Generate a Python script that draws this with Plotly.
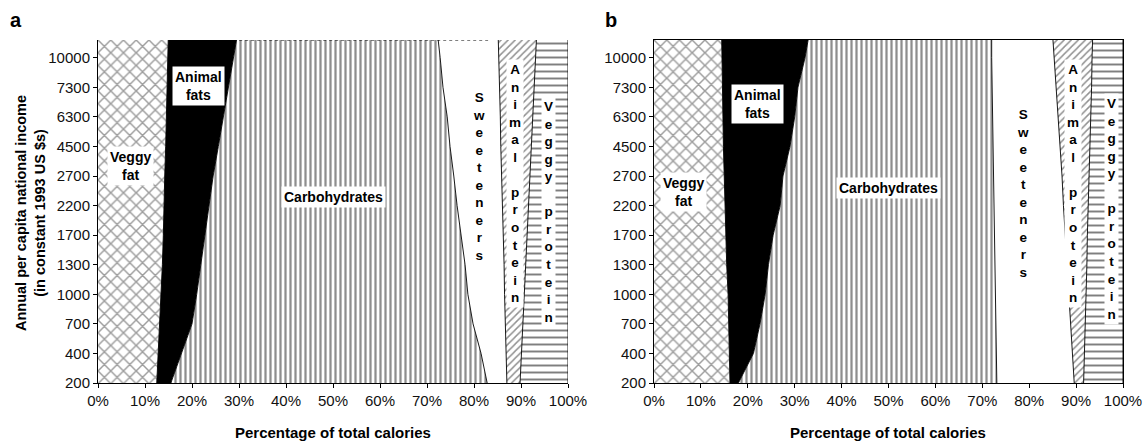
import plotly.graph_objects as go

# Income levels on the vertical axis (constant 1993 US $), bottom to top
income_levels = ["200", "400", "700", "1000", "1300", "1700",
                 "2200", "2700", "4500", "6300", "7300", "10000"]
pct_ticks = [0, 10, 20, 30, 40, 50, 60, 70, 80, 90, 100]
pct_labels = [f"{v}%" for v in pct_ticks]

# Share of total calories (%) per income level, bottom to top.
# Each band carries one extra step above 10000 so it reaches the top of the frame.
a_veggy_fat      = [12.5, 12.8, 13.2, 13.5, 13.7, 13.9, 14.0, 14.2, 14.4, 14.6, 14.8, 14.9, 15.0]
a_animal_fats    = [3.0, 5.0, 6.8, 7.5, 8.2, 8.9, 9.7, 10.3, 11.2, 12.1, 13.0, 13.9, 14.9]
a_carbohydrates  = [67.3, 63.7, 59.8, 57.7, 56.2, 54.4, 52.7, 51.2, 49.3, 47.6, 45.6, 44.0, 42.2]
a_sweeteners     = [4.2, 5.3, 6.9, 7.8, 8.3, 9.0, 9.6, 10.2, 10.8, 11.3, 12.0, 12.5, 13.0]
a_animal_protein = [2.8, 3.3, 3.7, 4.2, 4.6, 5.1, 5.6, 6.0, 6.5, 6.9, 7.4, 7.8, 8.3]
a_veggy_protein  = [10.2, 9.9, 9.6, 9.3, 9.0, 8.7, 8.4, 8.1, 7.8, 7.5, 7.2, 6.9, 6.6]

b_veggy_fat      = [16.2, 16.1, 16.0, 15.8, 15.5, 15.3, 15.1, 14.9, 14.8, 14.7, 14.6, 14.5, 14.4]
b_animal_fats    = [1.8, 5.1, 6.6, 7.9, 8.9, 10.1, 11.8, 12.6, 14.2, 15.3, 16.1, 17.7, 18.9]
b_carbohydrates  = [55.1, 51.8, 50.2, 49.0, 48.2, 47.1, 45.5, 44.8, 43.2, 42.2, 41.4, 39.8, 38.7]
b_sweeteners     = [16.5, 16.2, 16.0, 15.7, 15.4, 15.1, 14.9, 14.7, 14.4, 14.1, 13.8, 13.5, 12.9]
b_animal_protein = [2.0, 2.6, 3.1, 3.7, 4.3, 4.8, 5.3, 5.8, 6.3, 6.8, 7.4, 7.9, 8.7]
b_veggy_protein  = [8.4, 8.2, 8.1, 7.9, 7.7, 7.6, 7.4, 7.2, 7.1, 6.9, 6.7, 6.6, 6.4]

FONT = "Liberation Sans, Arial, sans-serif"
W, H = 1147, 441

# Fill styles for the six bands
styles = {
    "Veggy fat": dict(fillcolor="white",
                      fillpattern=dict(shape="x", size=9, solidity=0.3,
                                       fgcolor="#3c3c3c", bgcolor="white")),
    "Animal fats": dict(fillcolor="black"),
    "Carbohydrates": dict(fillcolor="white",
                          fillpattern=dict(shape="|", size=5, solidity=0.45,
                                           fgcolor="#1e1e1e", bgcolor="white")),
    "Sweeteners": dict(fillcolor="white"),
    "Animal protein": dict(fillcolor="white",
                           fillpattern=dict(shape="/", size=5, solidity=0.3,
                                            fgcolor="#222222", bgcolor="white")),
    "Veggy protein": dict(fillcolor="white",
                          fillpattern=dict(shape="-", size=7, solidity=0.28,
                                           fgcolor="#000000", bgcolor="white")),
}

panels = [
    ("a", "x", "y", [a_veggy_fat, a_animal_fats, a_carbohydrates,
                     a_sweeteners, a_animal_protein, a_veggy_protein]),
    ("b", "x2", "y2", [b_veggy_fat, b_animal_fats, b_carbohydrates,
                       b_sweeteners, b_animal_protein, b_veggy_protein]),
]

fig = go.Figure()
names = list(styles.keys())
for group, xa, ya, series in panels:
    rows = list(range(len(series[0])))
    for i, (name, vals) in enumerate(zip(names, series)):
        kw = dict(styles[name])
        tr = go.Scatter(
            x=vals, y=rows, name=name, mode="lines",
            stackgroup=group, xaxis=xa, yaxis=ya,
            line=dict(color="black", width=0.9),
            showlegend=False, hoverinfo="skip",
            **kw,
        )
        if i == 0:
            tr.update(orientation="h")
        fig.add_trace(tr)

# Plot areas in pixels
xa_dom = [98 / W, 568 / W]
xb_dom = [654 / W, 1123 / W]
y_dom = [1 - 383 / H, 1 - 40 / H]
y_top = 11.6

tickfont = dict(family=FONT, size=15, color="#111111")
x_common = dict(range=[0, 100], tickmode="array", tickvals=pct_ticks,
                ticktext=pct_labels,
                ticks="outside", ticklen=4, tickcolor="black",
                showline=True, linecolor="black", linewidth=1,
                showgrid=False, zeroline=False, tickfont=tickfont,
                automargin=False, fixedrange=True)
y_common = dict(range=[0, y_top], tickmode="array",
                tickvals=list(range(len(income_levels))),
                ticktext=income_levels, ticks="outside", ticklen=4,
                tickcolor="black", showline=True, linecolor="black",
                linewidth=1, showgrid=False, zeroline=False,
                tickfont=tickfont, automargin=False, fixedrange=True)

fig.update_layout(
    width=W, height=H,
    margin=dict(l=0, r=0, t=0, b=0),
    paper_bgcolor="white", plot_bgcolor="white",
    font=dict(family=FONT, color="black"),
    xaxis=dict(domain=xa_dom, anchor="y", **x_common),
    yaxis=dict(domain=y_dom, anchor="x", **y_common),
    xaxis2=dict(domain=xb_dom, anchor="y2", mirror=True, **x_common),
    yaxis2=dict(domain=y_dom, anchor="x2", mirror=True, **y_common),
)

# Dotted upper edge of panel a
fig.add_shape(type="line", xref="x", yref="y", x0=16, x1=83, y0=y_top, y1=y_top,
              line=dict(color="black", width=1.2, dash="dot"))


def box_label(text, xref, yref, x, y, size=14):
    fig.add_annotation(text="<b>" + text + "</b>", xref=xref, yref=yref,
                       x=x, y=y, showarrow=False, bgcolor="white",
                       borderpad=2, font=dict(family=FONT, size=size,
                                              color="black"))


def stacked(word):
    return "<br>".join(" " if c == " " else c for c in word)


# Band labels, panel a
box_label("Veggy<br>fat", "x", "y", 7.0, 7.35)
box_label("Animal<br>fats", "x", "y", 21.3, 10.05)
box_label("Carbohydrates", "x", "y", 50.0, 6.3)
box_label(stacked("Sweeteners"), "x", "y", 81.1, 7.0, size=13.5)
box_label(stacked("Animal protein"), "x", "y", 88.8, 6.75, size=13.5)
box_label(stacked("Veggy protein"), "x", "y", 95.8, 5.8, size=13.5)

# Band labels, panel b
box_label("Veggy<br>fat", "x2", "y2", 6.2, 6.45)
box_label("Animal<br>fats", "x2", "y2", 22.0, 9.45)
box_label("Carbohydrates", "x2", "y2", 49.9, 6.6)
box_label(stacked("Sweeteners"), "x2", "y2", 78.7, 6.4, size=13.5)
box_label(stacked("Animal protein"), "x2", "y2", 89.4, 6.75, size=13.5)
box_label(stacked("Veggy protein"), "x2", "y2", 97.6, 5.9, size=13.5)

# Axis titles
for cx in (333, 888):
    fig.add_annotation(text="<b>Percentage of total calories</b>",
                       xref="paper", yref="paper", x=cx / W, y=1 - 432 / H,
                       xanchor="center", yanchor="middle", showarrow=False,
                       font=dict(family=FONT, size=15, color="black"))

fig.add_annotation(
    text="<b>Annual per capita national income</b><br><b>(in constant 1993 US $s)</b>",
    xref="paper", yref="paper", x=30 / W, y=1 - 213 / H,
    xanchor="center", yanchor="middle", textangle=-90, showarrow=False,
    font=dict(family=FONT, size=14.5, color="black"))

# Panel letters
for letter, px in (("a", 16), ("b", 611)):
    fig.add_annotation(text="<b>" + letter + "</b>", xref="paper", yref="paper",
                       x=px / W, y=1 - 20 / H, xanchor="center",
                       yanchor="middle", showarrow=False,
                       font=dict(family=FONT, size=20, color="black"))

fig.write_html("out.html")
